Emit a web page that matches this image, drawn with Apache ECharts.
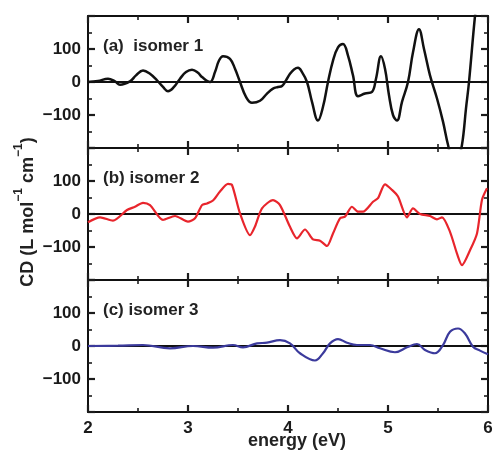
<!DOCTYPE html>
<html>
<head>
<meta charset="utf-8">
<script src="https://cdn.jsdelivr.net/npm/echarts@6/dist/echarts.min.js"></script>
<style>
  html, body { margin: 0; padding: 0; background: #ffffff; }
  #chart { width: 496px; height: 454px; }
</style>
</head>
<body>
<div id="chart"></div>
<script>
// CD spectra of three isomers, energy (eV) vs CD (L mol^-1 cm^-1)
const panelLabels = ['(a)  isomer 1', '(b) isomer 2', '(c) isomer 3'];
const lineColors = ['#111111', '#e8252c', '#3b3a9c'];

const isomer1 = [
  [2.00, 0], [2.10, 3], [2.20, 10], [2.27, 2], [2.32, -8], [2.42, 2], [2.48, 20],
  [2.55, 35], [2.62, 25], [2.69, 5], [2.75, -15], [2.80, -28], [2.86, -15],
  [2.92, 10], [2.98, 30], [3.04, 37], [3.10, 28], [3.14, 15], [3.22, 0],
  [3.27, 30], [3.31, 65], [3.35, 78], [3.42, 70], [3.47, 40], [3.52, 0],
  [3.58, -45], [3.64, -63], [3.72, -57], [3.79, -35], [3.85, -20], [3.90, -15],
  [3.94, -12], [3.98, 5], [4.02, 25], [4.06, 38], [4.10, 43], [4.14, 30],
  [4.19, 0], [4.24, -60], [4.30, -117], [4.35, -75], [4.40, 0], [4.45, 65],
  [4.50, 105], [4.55, 115], [4.60, 80], [4.65, 20], [4.70, -43], [4.77, -35],
  [4.84, -30], [4.88, 10], [4.93, 78], [4.97, 40], [5.01, -40], [5.05, -100],
  [5.09, -117], [5.14, -60], [5.20, 0], [5.25, 90], [5.31, 160], [5.36, 100],
  [5.42, 20], [5.49, -50], [5.55, -120], [5.60, -190], [5.65, -240], [5.70, -230],
  [5.74, -190], [5.78, -80], [5.81, 0], [5.87, 200], [5.95, 420], [6.00, 520]
];

const isomer2 = [
  [2.00, -25], [2.12, -10], [2.25, -20], [2.39, 12], [2.47, 22], [2.55, 34],
  [2.62, 27], [2.75, -18], [2.87, -6], [3.00, -23], [3.07, -13], [3.14, 27],
  [3.19, 32], [3.25, 41], [3.32, 68], [3.40, 91], [3.44, 88], [3.52, 2],
  [3.62, -64], [3.67, -38], [3.74, 17], [3.85, 42], [3.92, 27], [4.02, -39],
  [4.09, -74], [4.17, -47], [4.25, -77], [4.32, -81], [4.39, -97], [4.45, -59],
  [4.52, -13], [4.57, -8], [4.64, 22], [4.70, 7], [4.75, 7], [4.85, 37],
  [4.90, 48], [4.97, 90], [5.04, 73], [5.10, 53], [5.19, -10], [5.25, 17],
  [5.32, 0], [5.42, -6], [5.49, -16], [5.54, -10], [5.62, -54], [5.69, -120],
  [5.74, -155], [5.82, -110], [5.89, -59], [5.94, 43], [5.99, 78]
];

const isomer3 = [
  [2.00, 0], [2.30, 1], [2.55, 3], [2.82, -7], [3.05, 0], [3.25, -5], [3.45, 3],
  [3.55, -4], [3.69, 8], [3.79, 10], [3.92, 18], [4.02, 8], [4.12, -22],
  [4.27, -44], [4.35, -22], [4.42, 8], [4.50, 21], [4.59, 10], [4.69, 3],
  [4.82, 3], [4.92, -7], [5.07, -19], [5.19, -4], [5.29, 6], [5.37, -12],
  [5.47, -22], [5.55, 3], [5.62, 43], [5.70, 53], [5.77, 38], [5.85, -2],
  [5.92, -14], [6.00, -25]
];

const seriesData = [isomer1, isomer2, isomer3];
const xTicks = [2, 3, 4, 5, 6];
const yTickLabels = { '100': '100', '0': '0', '-100': '\u2212100' };

const FONT = '"Liberation Sans", Arial, Helvetica, sans-serif';
const gridTops = [16, 148, 280];
const gridHeight = 132;

const xAxes = [];
const yAxes = [];
gridTops.forEach((t, i) => {
  const last = i === gridTops.length - 1;
  ['bottom', 'top'].forEach(pos => {
    xAxes.push({
      type: 'value', gridIndex: i, position: pos, min: 2, max: 6, interval: 1,
      axisLine: { show: true, onZero: false, lineStyle: { color: '#111', width: 2 } },
      axisTick: { show: true, inside: true, length: 7, lineStyle: { color: '#1c1c1c', width: 2.2 } },
      minorTick: { show: true, splitNumber: 2, length: 4, lineStyle: { color: '#1c1c1c', width: 1.6 } },
      splitLine: { show: false },
      axisLabel: {
        show: last && pos === 'bottom', margin: 8, fontSize: 17, fontWeight: 'bold',
        color: '#1a1a1a', fontFamily: FONT,
        formatter: v => (xTicks.indexOf(v) >= 0 ? String(v) : '')
      }
    });
  });
  ['left', 'right'].forEach(pos => {
    yAxes.push({
      type: 'value', gridIndex: i, position: pos, min: -200, max: 200, interval: 100,
      axisLine: { show: true, onZero: false, lineStyle: { color: '#111', width: 2 } },
      axisTick: { show: true, inside: true, length: 7, lineStyle: { color: '#1c1c1c', width: 2.2 } },
      minorTick: { show: true, splitNumber: 2, length: 4, lineStyle: { color: '#1c1c1c', width: 1.6 } },
      splitLine: { show: false },
      axisLabel: {
        show: pos === 'left', margin: 7, fontSize: 17, fontWeight: 'bold',
        color: '#1a1a1a', fontFamily: FONT,
        formatter: v => (yTickLabels[String(v)] || '')
      }
    });
  });
});

const series = [];
seriesData.forEach((d, i) => {
  // zero reference line
  series.push({
    type: 'line', xAxisIndex: 2 * i, yAxisIndex: 2 * i,
    data: [[2, 0], [6, 0]], showSymbol: false,
    lineStyle: { color: '#111', width: 2 }
  });
  series.push({
    type: 'line', xAxisIndex: 2 * i, yAxisIndex: 2 * i,
    data: d, showSymbol: false,
    smooth: i === 1 ? 0.25 : 0.4,
    lineStyle: { color: lineColors[i], width: i === 0 ? 2.5 : 2.2 }
  });
});

const graphics = gridTops.map((t, i) => ({
  type: 'text', left: 103, top: t + 22,
  style: { text: panelLabels[i], fill: '#222', font: 'bold 17px ' + FONT }
}));

graphics.push({
  type: 'text', x: 25, y: 212, rotation: Math.PI / 2,
  style: {
    text: '{a|CD (L mol}{s|\u22121}{a| cm}{s|\u22121}{a|)}',
    align: 'center', verticalAlign: 'middle',
    rich: {
      a: { fontSize: 18, fontWeight: 'bold', fontFamily: FONT, fill: '#222', lineHeight: 24, verticalAlign: 'bottom' },
      s: { fontSize: 12, fontWeight: 'bold', fontFamily: FONT, fill: '#222', lineHeight: 24, verticalAlign: 'top' }
    }
  }
});

graphics.push({
  type: 'text', x: 297, y: 441,
  style: { text: 'energy (eV)', align: 'center', verticalAlign: 'middle', fill: '#222', font: 'bold 18px ' + FONT }
});

const chart = echarts.init(document.getElementById('chart'));
chart.setOption({
  animation: false,
  grid: gridTops.map(t => ({ left: 88, right: 8, top: t, height: gridHeight })),
  xAxis: xAxes,
  yAxis: yAxes,
  series: series,
  graphic: graphics
});
</script>
</body>
</html>
